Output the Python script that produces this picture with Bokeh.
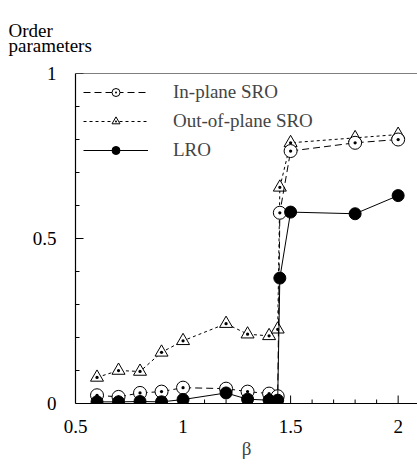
import numpy as np
from bokeh.plotting import figure
from bokeh.models import (ColumnDataSource, Range1d, SingleIntervalTicker, Span,
                          Title, Legend, LegendItem)
from bokeh.embed import file_html
from bokeh.resources import INLINE

# ---- data ----
beta = [0.6, 0.7, 0.8, 0.9, 1.0, 1.2, 1.3, 1.4, 1.44, 1.45, 1.5, 1.8, 2.0]
inplane_sro = [0.025, 0.02, 0.032, 0.036, 0.048, 0.045, 0.036, 0.03, 0.022,
               0.578, 0.765, 0.79, 0.80]
outplane_sro = [0.079, 0.10, 0.097, 0.155, 0.19, 0.242, 0.21, 0.205, 0.225,
                0.655, 0.79, 0.805, 0.815]
lro = [0.005, 0.005, 0.006, 0.005, 0.012, 0.032, 0.013, 0.01, 0.01,
       0.38, 0.58, 0.575, 0.63]

series_names = ["In-plane SRO", "Out-of-plane SRO", "LRO"]
x_tick_labels = {0.5: "0.5", 1: "1", 1.5: "1.5", 2: "2"}
y_tick_labels = {0: "0", 0.5: "0.5", 1: "1"}
x_label = "β"
y_title = ["Order", "parameters"]

# tick positions (inward tick marks)
x_major = [0.5, 1.0, 1.5, 2.0]
x_minor = [v for v in np.round(np.arange(0.6, 2.1, 0.1), 2) if v not in x_major]
y_major = [0.0, 0.5, 1.0]
y_minor = [v for v in np.round(np.arange(0.1, 1.0, 0.1), 2) if v not in y_major]

FONT = "Liberation Serif"
FS = "19px"

src = ColumnDataSource(dict(beta=beta, inplane=inplane_sro,
                            outplane=outplane_sro, lro=lro))

p = figure(width=417, height=464, output_backend="svg", toolbar_location=None,
           x_range=Range1d(0.5, 2.09), y_range=Range1d(0, 1),
           min_border_left=75, min_border_right=0, min_border_top=73,
           min_border_bottom=61)
p.grid.visible = False
p.outline_line_color = None
p.background_fill_color = "white"
p.border_fill_color = "white"

for ax in (p.xaxis[0], p.yaxis[0]):
    ax.ticker = SingleIntervalTicker(interval=0.5, num_minor_ticks=5)
    ax.major_tick_in = 0
    ax.major_tick_out = 0
    ax.minor_tick_in = 0
    ax.minor_tick_out = 0
    ax.major_tick_line_color = None
    ax.minor_tick_line_color = None
    ax.axis_line_color = "black"
    ax.axis_line_width = 1.2
    ax.major_label_text_font = FONT
    ax.major_label_text_font_size = FS
    ax.major_label_text_color = "black"

p.xaxis.major_label_overrides = x_tick_labels
p.yaxis.major_label_overrides = y_tick_labels
p.xaxis.major_label_standoff = 16
p.yaxis.major_label_standoff = 19
p.xaxis.axis_label = x_label
p.xaxis.axis_label_text_font = FONT
p.xaxis.axis_label_text_font_size = FS
p.xaxis.axis_label_text_font_style = "normal"
p.xaxis.axis_label_standoff = 2

# inward tick marks drawn as screen-length rays
p.ray(x=x_major, y=[0] * len(x_major), length=8, length_units="screen",
      angle=np.pi / 2, line_color="black", line_width=1)
p.ray(x=x_minor, y=[0] * len(x_minor), length=4, length_units="screen",
      angle=np.pi / 2, line_color="black", line_width=1)
p.ray(x=[0.5] * len(y_major), y=y_major, length=8, length_units="screen",
      angle=0, line_color="black", line_width=1)
p.ray(x=[0.5] * len(y_minor), y=y_minor, length=4, length_units="screen",
      angle=0, line_color="black", line_width=1)

# top frame line
p.add_layout(Span(location=1, dimension="width", line_color="black", line_width=1))

# series
l2 = p.line("beta", "outplane", source=src, line_color="black", line_width=1,
            line_dash="3 3")
s2 = p.scatter("beta", "outplane", source=src, marker="triangle_dot", size=13,
               fill_color="white", line_color="black", line_width=1)
l1 = p.line("beta", "inplane", source=src, line_color="black", line_width=1,
            line_dash="7 4")
s1 = p.scatter("beta", "inplane", source=src, marker="circle_dot", size=13,
               fill_color="white", line_color="black", line_width=1)
l3 = p.line("beta", "lro", source=src, line_color="black", line_width=1)
s3 = p.scatter("beta", "lro", source=src, marker="circle", size=12,
               fill_color="black", line_color="black")

legend = Legend(items=[LegendItem(label=series_names[0], renderers=[l1, s1]),
                       LegendItem(label=series_names[1], renderers=[l2, s2]),
                       LegendItem(label=series_names[2], renderers=[l3, s3])],
                location="top_left", glyph_width=65, glyph_height=20,
                label_standoff=25, spacing=7, padding=5, margin=8,
                border_line_color=None, background_fill_alpha=0,
                label_text_font=FONT, label_text_font_size=FS)
p.add_layout(legend)

# y title above the axis: one two-line title
p.add_layout(Title(text="\n".join(y_title), align="left", offset=-67,
                   standoff=35, vertical_align="bottom", text_line_height=0.72,
                   text_font=FONT, text_font_size=FS, text_font_style="normal",
                   text_color="black"), "above")

open("out.html", "w").write(file_html(p, INLINE))
